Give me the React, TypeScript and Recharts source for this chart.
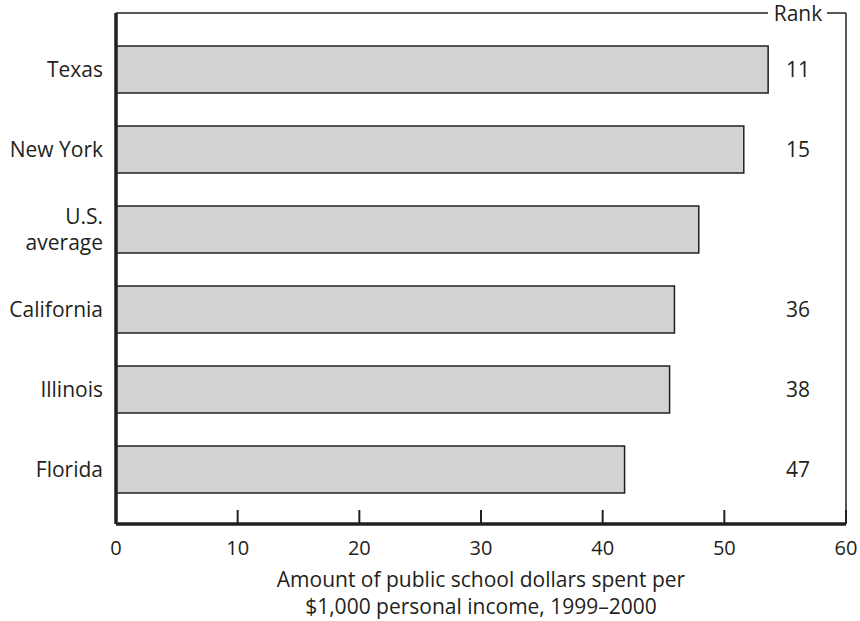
import React from 'react';
import { BarChart, Bar, XAxis, YAxis } from 'recharts';

const states = ['Texas', 'New York', 'U.S. average', 'California', 'Illinois', 'Florida'];
const dollars = [53.6, 51.6, 47.9, 45.9, 45.5, 41.8];
const ranks = ['11', '15', '', '36', '38', '47'];
const xTicks = [0, 10, 20, 30, 40, 50, 60];
const titleLines = ['Amount of public school dollars spent per', '$1,000 personal income, 1999–2000'];

const data = states.map((s, i) => ({ name: s, value: dollars[i], rank: ranks[i] }));
const rankOf: Record<string, string> = {};
states.forEach((s, i) => { rankOf[s] = ranks[i]; });

const INK = '#231f20';
const FONT = '"Open Sans", "Noto Sans", sans-serif';
const FS = 21;

const LeftTick = (props: any) => {
  const { x, y, payload } = props;
  const v: string = payload.value;
  const lines = v === 'U.S. average' ? ['U.S.', 'average'] : [v];
  const lh = 26;
  const start = y - ((lines.length - 1) * lh) / 2;
  return (
    <text x={x} y={start} textAnchor="end" fill={INK} fontSize={FS} fontFamily={FONT} dominantBaseline="central">
      {lines.map((l, i) => (
        <tspan key={i} x={x} y={start + i * lh}>{l}</tspan>
      ))}
    </text>
  );
};

const RightTick = (props: any) => {
  const { x, y, payload } = props;
  return (
    <text x={x} y={y} textAnchor="middle" fill={INK} fontSize={FS} fontFamily={FONT} dominantBaseline="central">
      {rankOf[payload.value]}
    </text>
  );
};

const BottomTick = (props: any) => {
  const { x, y, payload } = props;
  return (
    <g>
      <line x1={x} x2={x} y1={y} y2={y - 14} stroke={INK} strokeWidth={2} />
      <text x={x} y={y + 23} textAnchor="middle" fill={INK} fontSize={20} fontFamily={FONT} dominantBaseline="central">
        {payload.value}
      </text>
    </g>
  );
};

const BottomTitle = (props: any) => {
  const vb = props.viewBox || {};
  const cx = vb.x + vb.width / 2;
  return (
    <text textAnchor="middle" fill={INK} fontSize={FS} fontFamily={FONT} dominantBaseline="central">
      {titleLines.map((l, i) => (
        <tspan key={i} x={cx} y={vb.y + 55 + i * 27}>{l}</tspan>
      ))}
    </text>
  );
};

const RankHeader = (props: any) => {
  const vb = props.viewBox || {};
  const right = vb.x + vb.width;
  const yLine = vb.y + vb.height;
  return (
    <g>
      <rect x={right - 78} y={yLine - 4} width={59} height={8} fill="#fff" />
      <text x={right - 48} y={yLine} textAnchor="middle" fill={INK} fontSize={FS} fontFamily={FONT} dominantBaseline="central">
        Rank
      </text>
    </g>
  );
};

export default function App() {
  return (
    <div style={{ position: 'absolute', left: 0, top: 0, width: 860, height: 621, background: '#fff' }}>
      <BarChart
        width={860}
        height={621}
        data={data}
        layout="vertical"
        margin={{ top: 0, right: 14, bottom: 0, left: 0 }}
      >
        <XAxis
          xAxisId="top"
          orientation="top"
          type="number"
          domain={[0, 60]}
          ticks={xTicks}
          height={13}
          tick={false}
          tickLine={false}
          axisLine={{ stroke: INK, strokeWidth: 1.5 }}
          label={<RankHeader />}
        />
        <XAxis
          type="number"
          domain={[0, 60]}
          ticks={xTicks}
          height={97}
          tickSize={0}
          tickMargin={0}
          tickLine={false}
          axisLine={{ stroke: INK, strokeWidth: 3.5 }}
          tick={<BottomTick />}
          label={<BottomTitle />}
          interval={0}
        />
        <YAxis
          yAxisId="left"
          type="category"
          dataKey="name"
          width={116}
          padding={{ top: 16, bottom: 15 }}
          tickLine={false}
          tickSize={0}
          tickMargin={13}
          axisLine={{ stroke: INK, strokeWidth: 3.5 }}
          tick={<LeftTick />}
          interval={0}
        />
        <YAxis
          yAxisId="right"
          orientation="right"
          type="category"
          dataKey="name"
          width={14}
          mirror
          padding={{ top: 16, bottom: 15 }}
          tickLine={false}
          tickSize={0}
          tickMargin={48}
          axisLine={{ stroke: INK, strokeWidth: 1.5 }}
          tick={<RightTick />}
          interval={0}
        />
        <Bar
          dataKey="value"
          yAxisId="left"
          barSize={47}
          fill="#d1d2d4"
          stroke={INK}
          strokeWidth={1.5}
          isAnimationActive={false}
        />
      </BarChart>
    </div>
  );
}
